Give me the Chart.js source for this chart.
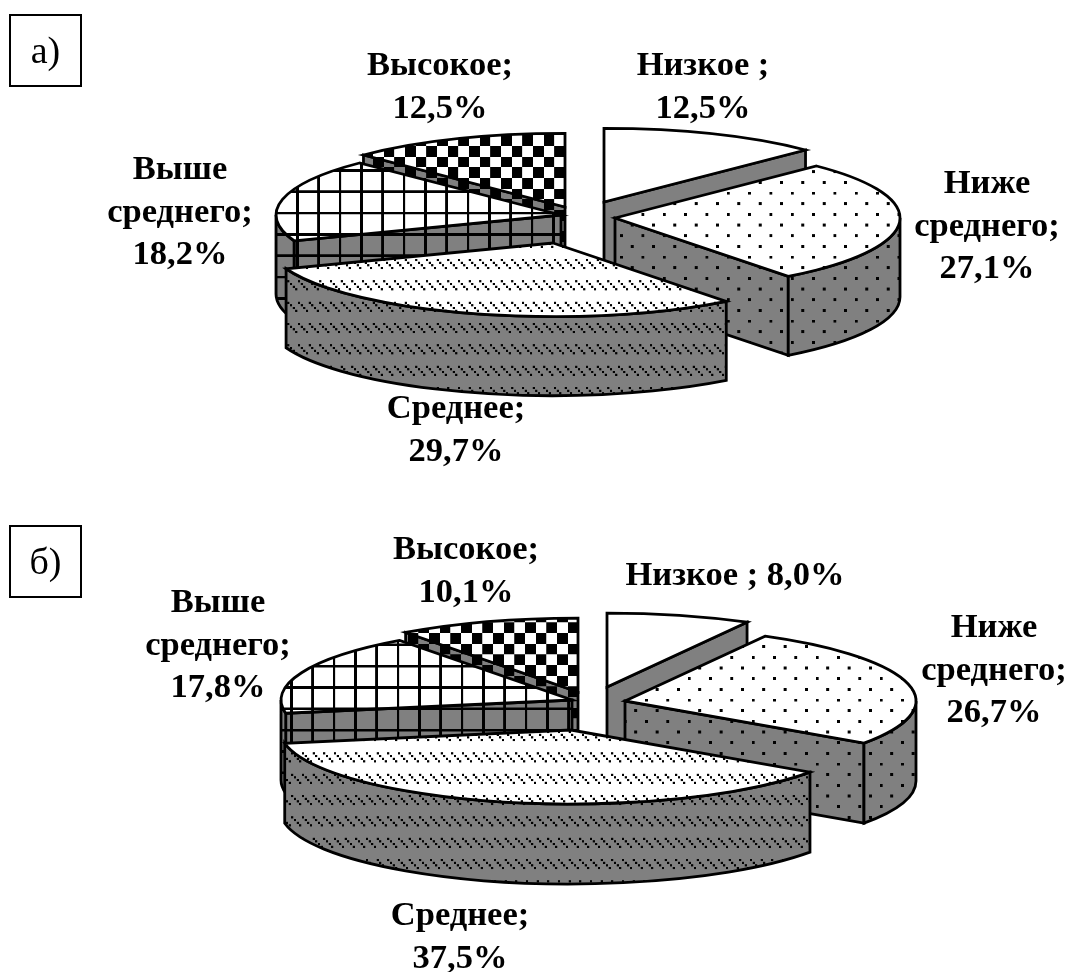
<!DOCTYPE html>
<html lang="ru">
<head>
<meta charset="utf-8">
<title>Уровни</title>
<script src="https://cdn.jsdelivr.net/npm/chart.js@4/dist/chart.umd.js"></script>
<style>
  html, body { margin: 0; padding: 0; background: #fff; }
  #page { position: relative; width: 1069px; height: 972px; overflow: hidden; }
  canvas { position: absolute; left: 0; }
  .tag {
    position: absolute; left: 9px; width: 69px; height: 69px; border: 2px solid #000;
    font: 38px "Liberation Serif", serif; line-height: 69px; text-align: center; color: #000;
  }
</style>
</head>
<body>
<div id="page">
  <canvas id="pieA" style="top:0"></canvas>
  <canvas id="pieB" style="top:486px"></canvas>
  <div class="tag" style="top:14px">а)</div>
  <div class="tag" style="top:525px">б)</div>
</div>
<script>
// -------- Data --------
const categories = ['Низкое ;', 'Ниже среднего;', 'Среднее;', 'Выше среднего;', 'Высокое;'];
const valuesA = [12.5, 27.1, 29.7, 18.2, 12.5];
const valuesB = [8.0, 26.7, 37.5, 17.8, 10.1];

// -------- Fill bitmaps (8x8) --------
const BITS_DOTS = ['10000000', '00000000', '00000000', '00000000', '00001000', '00000000', '00000000', '00000000'];
const BITS_HATCH = ['10001000', '01000100', '00100010', '00010001', '00000000', '00000000', '00000000', '00000000'];
const BITS_GRID = ['11111111', '10000000', '10000000', '10000000', '10000000', '10000000', '10000000', '10000000'];
const BITS_CHECK = ['11110000', '11110000', '11110000', '11110000', '00001111', '00001111', '00001111', '00001111'];
const SLICE_BITS = [null, BITS_DOTS, BITS_HATCH, BITS_GRID, BITS_CHECK];
// ink size of one bit in the 64px tile, the hatch is drawn as separate beads
const SLICE_INK = [8, 9, 6.5, 8, 8];

const WALL_GRAY = '#808080';
const LABEL_FONT = 'bold 34.5px "Liberation Serif", serif';
const LABEL_LEADING = 42.5;

// slices painted back to front
const PAINT_ORDER = [0, 4, 3, 1, 2];

// -------- Layout of each pie --------
const layoutA = {
  top: 0, cx: 588, cy: 216, radius: 285, squash: 0.258, depth: 79,
  explode: [[16, -14], [27, 2], [-35, 27], [-27, -1], [-23, -9]],
  phase: [null, [1.5, -0.3], [9.7, 2.7], [18.7, -1.6], [-0.3, 18]],
  wrap: [['Низкое ;'], ['Ниже', 'среднего;'], ['Среднее;'], ['Выше', 'среднего;'], ['Высокое;']],
  inlineValue: [false, false, false, false, false],
  labelAt: [[703, 75], [987, 193], [456, 418], [180, 179], [440, 75]],
};
const layoutB = {
  top: 486, cx: 595, cy: 700, radius: 291, squash: 0.254, depth: 80,
  explode: [[12, -13], [30, 1], [-24, 30], [-23, 0], [-17, -8]],
  phase: [null, [5.1, 16], [3, 5.4], [12.7, 3.5], [2.4, 14.4]],
  wrap: [['Низкое ;'], ['Ниже', 'среднего;'], ['Среднее;'], ['Выше', 'среднего;'], ['Высокое;']],
  inlineValue: [true, false, false, false, false],
  labelAt: [[735, 585], [994, 637], [460, 925], [218, 612], [466, 559]],
};

// -------- Utils --------
function fmtValue(v) { return v.toFixed(1).replace('.', ',') + '%'; }

function makePattern(ctx, bits, bg, ink) {
  const tile = document.createElement('canvas');
  tile.width = tile.height = 64;
  const t = tile.getContext('2d');
  t.fillStyle = bg;
  t.fillRect(0, 0, 64, 64);
  t.fillStyle = '#000';
  const pad = (8 - ink) / 2;
  bits.forEach((row, y) => {
    [...row].forEach((b, x) => { if (b === '1') t.fillRect(x * 8 + pad, y * 8 + pad, ink, ink); });
  });
  return ctx.createPattern(tile, 'repeat');
}

// keeps a fill pinned to the page no matter what the context transform is
function pinPattern(ctx, pattern, phase, top) {
  if (!pattern || !pattern.setTransform) return;
  const m = ctx.getTransform().inverse();
  pattern.setTransform(m.translate(phase[0], phase[1] - top).scale(1 / 3));
}

// -------- 3D drawing --------
function radialWall(ctx, arc, a, k, depth) {
  const { x, y, outerRadius: r } = arc;
  const rimX = x + r * Math.cos(a);
  const rimY = y + k * r * Math.sin(a);
  ctx.beginPath();
  ctx.moveTo(x, y);
  ctx.lineTo(rimX, rimY);
  ctx.lineTo(rimX, rimY + depth);
  ctx.lineTo(x, y + depth);
  ctx.closePath();
  ctx.fill();
  ctx.stroke();
}

function drawWalls(ctx, arc, k, depth) {
  const { x, y, startAngle, endAngle, outerRadius: r } = arc;
  if (Math.cos(startAngle) < -1e-6) radialWall(ctx, arc, startAngle, k, depth);
  if (Math.cos(endAngle) > 1e-6) radialWall(ctx, arc, endAngle, k, depth);
  const lo = Math.max(startAngle, 0);
  const hi = Math.min(endAngle, Math.PI);
  if (hi > lo) {
    ctx.beginPath();
    ctx.ellipse(x, y, r, k * r, 0, lo, hi);
    ctx.ellipse(x, y + depth, r, k * r, 0, hi, lo, true);
    ctx.closePath();
    ctx.fill();
    ctx.stroke();
  }
}

const pie3d = {
  id: 'pie3d',
  beforeDatasetDraw(chart, args, opts) {
    const { ctx } = chart;
    const { layout, wallFills, topFills } = opts;
    const arcs = chart.getDatasetMeta(0).data;
    const k = layout.squash;
    PAINT_ORDER.forEach((i) => {
      const arc = arcs[i];
      const phase = layout.phase[i] || [0, 0];
      ctx.save();
      ctx.translate(layout.explode[i][0], layout.explode[i][1]);
      ctx.lineWidth = 2.8;
      ctx.lineJoin = 'miter';
      ctx.strokeStyle = '#000';

      pinPattern(ctx, wallFills[i], phase, layout.top);
      ctx.fillStyle = wallFills[i];
      drawWalls(ctx, arc, k, layout.depth);

      // top face goes through the arc element, flattened into an ellipse
      ctx.save();
      ctx.translate(arc.x, arc.y);
      ctx.scale(1, k);
      ctx.translate(-arc.x, -arc.y);
      pinPattern(ctx, topFills[i], phase, layout.top);
      arc.draw(ctx);
      ctx.restore();

      ctx.beginPath();
      ctx.moveTo(arc.x, arc.y);
      ctx.ellipse(arc.x, arc.y, arc.outerRadius, k * arc.outerRadius, 0, arc.startAngle, arc.endAngle);
      ctx.closePath();
      ctx.stroke();
      ctx.restore();
    });
    return false;
  },
  afterDraw(chart, args, opts) {
    const { ctx } = chart;
    const { layout } = opts;
    const values = chart.data.datasets[0].data;
    ctx.save();
    ctx.font = LABEL_FONT;
    ctx.fillStyle = '#000';
    ctx.textAlign = 'center';
    ctx.textBaseline = 'alphabetic';
    values.forEach((v, i) => {
      const lines = layout.wrap[i].slice();
      if (layout.inlineValue[i]) lines[lines.length - 1] += ' ' + fmtValue(v);
      else lines.push(fmtValue(v));
      const [ax, ay] = layout.labelAt[i];
      lines.forEach((txt, n) => ctx.fillText(txt, ax, ay - layout.top + n * LABEL_LEADING));
    });
    ctx.restore();
  },
};

// -------- Charts --------
function createPie(id, values, layout) {
  const canvas = document.getElementById(id);
  const width = 1069;
  const height = 486;
  canvas.width = width;
  canvas.height = height;
  const ctx = canvas.getContext('2d');
  const topFills = SLICE_BITS.map((b, i) => (b ? makePattern(ctx, b, '#ffffff', SLICE_INK[i]) : '#ffffff'));
  const wallFills = SLICE_BITS.map((b, i) => (b ? makePattern(ctx, b, WALL_GRAY, SLICE_INK[i]) : WALL_GRAY));
  return new Chart(ctx, {
    type: 'pie',
    data: {
      labels: categories,
      datasets: [{ data: values, backgroundColor: topFills, borderWidth: 0 }],
    },
    options: {
      responsive: false,
      animation: false,
      radius: layout.radius,
      layout: {
        padding: {
          left: 2 * layout.cx - width,
          bottom: height - 2 * (layout.cy - layout.top),
        },
      },
      plugins: {
        legend: { display: false },
        tooltip: { enabled: false },
        pie3d: { layout, wallFills, topFills },
      },
    },
    plugins: [pie3d],
  });
}

createPie('pieA', valuesA, layoutA);
createPie('pieB', valuesB, layoutB);
</script>
</body>
</html>
